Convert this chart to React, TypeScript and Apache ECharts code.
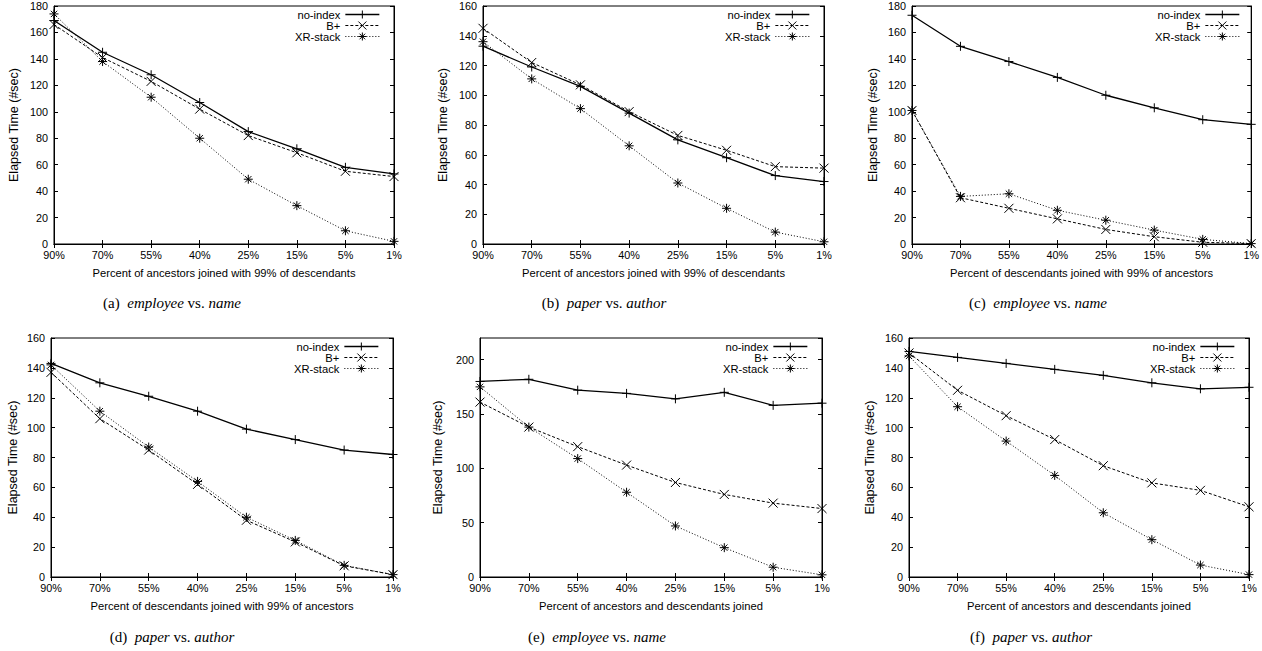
import React, { useEffect, useRef } from "react";
import * as echarts from "echarts";

// ---------- data ----------
const categories = ["90%", "70%", "55%", "40%", "25%", "15%", "5%", "1%"];
const seriesNames = ["no-index", "B+", "XR-stack"];

const aNoIndex = [169, 145, 128, 107, 85, 72, 58, 53];
const aBplus = [166, 141, 123, 102, 82, 69, 55, 51];
const aXR = [174, 138, 111, 80, 49, 29, 10, 2];

const bNoIndex = [133, 119, 106, 88, 70, 58, 46, 42];
const bBplus = [145, 122, 107, 89, 73, 63, 52, 51];
const bXR = [136, 111, 91, 66, 41, 24, 8, 1.5];

const cNoIndex = [173, 149.5, 138, 126, 112.5, 103, 94, 90.5];
const cBplus = [101, 35, 27, 19, 11, 5.5, 1.3, 0.3];
const cXR = [101, 36, 38, 25.5, 18, 10.5, 3.5, 0.3];

const dNoIndex = [143, 130, 121, 111, 99, 92, 85, 82];
const dBplus = [137, 106, 85, 62, 38, 23.5, 7.5, 1.6];
const dXR = [142, 111, 87, 64, 40, 24.5, 7.8, 1.6];

const eNoIndex = [180, 182, 172, 169, 164, 170, 158, 160];
const eBplus = [161, 138, 120, 103, 87, 76, 68, 63];
const eXR = [175, 138, 109, 78, 47, 27, 9, 2];

const fNoIndex = [151, 147, 143, 139, 135, 130, 126, 127];
const fBplus = [150, 125, 108, 92, 74.5, 63, 58, 47];
const fXR = [148, 114, 91, 68, 43, 25, 8, 1.6];

const panelData = [
  [aNoIndex, aBplus, aXR],
  [bNoIndex, bBplus, bXR],
  [cNoIndex, cBplus, cXR],
  [dNoIndex, dBplus, dXR],
  [eNoIndex, eBplus, eXR],
  [fNoIndex, fBplus, fXR],
];

const yMaxes = [180, 160, 180, 160, 220, 160];
const yIntervals = [20, 20, 20, 20, 50, 20];

const xTitleAD = "Percent of ancestors joined with 99% of descendants";
const xTitleDA = "Percent of descendants joined with 99% of ancestors";
const xTitleBoth = "Percent of ancestors and descendants joined";
const xTitles = [xTitleAD, xTitleAD, xTitleDA, xTitleDA, xTitleBoth, xTitleBoth];
const yTitle = "Elapsed Time (#sec)";

const captionLetters = ["(a)", "(b)", "(c)", "(d)", "(e)", "(f)"];
const captionWords = [
  ["employee", "name"],
  ["paper", "author"],
  ["employee", "name"],
  ["paper", "author"],
  ["employee", "name"],
  ["paper", "author"],
];

// ---------- layout / style ----------
const layouts = [
  { left: 54, top: 6, width: 340, height: 238, nameGap: 34, capX: 172, capY: 303 },
  { left: 483, top: 6, width: 341, height: 238, nameGap: 34, capX: 604, capY: 303 },
  { left: 912, top: 6, width: 342, height: 238, nameGap: 33, capX: 1038, capY: 303 },
  { left: 51, top: 338, width: 342, height: 239, nameGap: 32, capX: 172, capY: 637 },
  { left: 480, top: 338, width: 342, height: 239, nameGap: 36, capX: 597, capY: 637 },
  { left: 909, top: 338, width: 340, height: 239, nameGap: 33, capX: 1031, capY: 637 },
];

const SANS = "'Liberation Sans', Arial, Helvetica, sans-serif";
const SERIF = "'Liberation Serif', 'Times New Roman', serif";

const PLUS = "path://M0,5L10,5M5,0L5,10";
const CROSS = "path://M0,0L10,10M10,0L0,10";
const STAR = "path://M0,5L10,5M5,0L5,10M1.5,1.5L8.5,8.5M8.5,1.5L1.5,8.5";
const symbols = [PLUS, CROSS, STAR];
const lineStyles = [
  { type: "solid", width: 1.3 },
  { type: [3, 2], width: 1 },
  { type: [1, 2], width: 1 },
];

export default function App() {
  const ref = useRef<HTMLDivElement>(null);

  useEffect(() => {
    const chart = echarts.init(ref.current!, null, { renderer: "svg" });

    const grid: any[] = [];
    const xAxis: any[] = [];
    const yAxis: any[] = [];
    const series: any[] = [];
    const legend: any[] = [];
    const graphic: any[] = [];

    const tick = { show: true, inside: true, length: 4, lineStyle: { color: "#000", width: 1 } };
    const axLine = { show: true, lineStyle: { color: "#000", width: 1 } };

    layouts.forEach((l, i) => {
      grid.push({
        left: l.left,
        top: l.top,
        width: l.width,
        height: l.height,
        show: true,
        borderColor: "#000",
        borderWidth: 1,
        backgroundColor: "transparent",
        containLabel: false,
      });
      // bottom x axis
      xAxis.push({
        type: "category",
        gridIndex: i,
        data: categories,
        boundaryGap: false,
        position: "bottom",
        axisLine: axLine,
        axisTick: tick,
        axisLabel: { color: "#000", fontFamily: SANS, fontSize: 10.8, margin: 5 },
        splitLine: { show: false },
        name: xTitles[i],
        nameLocation: "middle",
        nameGap: 23,
        nameTextStyle: { color: "#000", fontFamily: SANS, fontSize: 11.2 },
      });
      // top mirror x axis
      xAxis.push({
        type: "category",
        gridIndex: i,
        data: categories,
        boundaryGap: false,
        position: "top",
        axisLine: axLine,
        axisTick: tick,
        axisLabel: { show: false },
        splitLine: { show: false },
      });
      // left y axis
      yAxis.push({
        type: "value",
        gridIndex: i,
        min: 0,
        max: yMaxes[i],
        interval: yIntervals[i],
        position: "left",
        axisLine: axLine,
        axisTick: tick,
        axisLabel: {
          color: "#000",
          fontFamily: SANS,
          fontSize: 10.8,
          margin: 6,
          showMaxLabel: yMaxes[i] % yIntervals[i] === 0,
        },
        splitLine: { show: false },
        name: yTitle,
        nameLocation: "middle",
        nameGap: l.nameGap,
        nameTextStyle: { color: "#000", fontFamily: SANS, fontSize: 12.5 },
      });
      // right mirror y axis
      yAxis.push({
        type: "value",
        gridIndex: i,
        min: 0,
        max: yMaxes[i],
        interval: yIntervals[i],
        position: "right",
        axisLine: axLine,
        axisTick: tick,
        axisLabel: { show: false },
        splitLine: { show: false },
      });

      panelData[i].forEach((vals, s) => {
        series.push({
          type: "line",
          name: seriesNames[s],
          xAxisIndex: i * 2,
          yAxisIndex: i * 2,
          data: vals,
          symbol: symbols[s],
          symbolSize: 9,
          showSymbol: true,
          color: "#000",
          itemStyle: { color: "#000", borderColor: "#000", borderWidth: 1 },
          lineStyle: { color: "#000", ...lineStyles[s] },
          z: 3 - s,
          silent: true,
        });
      });

      legend.push({
        orient: "vertical",
        align: "right",
        right: 1262 - (l.left + l.width - 14),
        top: l.top + 3,
        padding: 0,
        itemWidth: 34,
        itemHeight: 10,
        itemGap: 0,
        selectedMode: false,
        data: seriesNames.map((n, s) => ({
          name: n,
          lineStyle: { color: "#000", ...lineStyles[s] },
          itemStyle: { color: "#000", borderColor: "#000", borderWidth: 1 },
        })),
        textStyle: { color: "#000", fontFamily: SANS, fontSize: 11.2, lineHeight: 10 },
        itemStyle: { borderColor: "#000", borderWidth: 1 },
      });

      graphic.push({
        type: "text",
        x: l.capX,
        y: l.capY,
        style: {
          text: `${captionLetters[i]}  {i|${captionWords[i][0]}} vs. {i|${captionWords[i][1]}}`,
          fill: "#000",
          fontFamily: SERIF,
          fontSize: 15,
          align: "center",
          verticalAlign: "middle",
          rich: {
            i: { fontStyle: "italic", fontFamily: SERIF, fontSize: 15, fill: "#000" },
          },
        },
      });
    });

    chart.setOption({
      animation: false,
      backgroundColor: "#fff",
      grid,
      xAxis,
      yAxis,
      series,
      legend,
      graphic,
    });

    return () => chart.dispose();
  }, []);

  return (
    <div
      ref={ref}
      style={{ position: "absolute", left: 0, top: 0, width: 1262, height: 651, background: "#fff" }}
    />
  );
}
